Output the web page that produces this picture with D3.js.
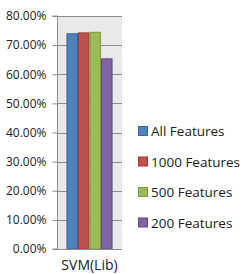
<!DOCTYPE html>
<html>
<head>
<meta charset="utf-8">
<script src="https://cdn.jsdelivr.net/npm/d3@7"></script>
<style>
  body { margin: 0; background: #fff; }
  text { font-family: "Open Sans", "DejaVu Sans", sans-serif; fill: #222; }
</style>
</head>
<body>
<div class="chart"></div>
<script>
var categories = ['SVM(Lib)']
var seriesNames = ['All Features', '1000 Features', '500 Features', '200 Features']
var seriesValues = [0.739, 0.742, 0.744, 0.653]
var colors = ['#4F81BD', '#C0504D', '#9BBB59', '#8064A2']
var strokes = ['#3b659a', '#9c3b38', '#7a9a40', '#5f4a80']
var yTicks = [0, 0.1, 0.2, 0.3, 0.4, 0.5, 0.6, 0.7, 0.8]

var width = 242, height = 274
var margin = {left: 57, top: 16, right: 120, bottom: 25}

var svg = d3.select('.chart').append('svg')
  .attr('width', width).attr('height', height)

var x0 = d3.scaleBand().domain(categories)
  .range([margin.left, width - margin.right]).paddingInner(0).paddingOuter(0.205)
var x1 = d3.scaleBand().domain(seriesNames).range([0, x0.bandwidth()])
var y = d3.scaleLinear().domain([0, 0.8]).range([height - margin.bottom, margin.top])

// plot background
svg.append('rect')
  .attr('x', margin.left).attr('y', margin.top)
  .attr('width', width - margin.right - margin.left)
  .attr('height', y(0) - margin.top)
  .attr('fill', '#e9e9e9')

// gridlines
svg.append('g').selectAll('line').data(yTicks.slice(1)).join('line')
  .attr('x1', margin.left).attr('x2', width - margin.right)
  .attr('y1', d => Math.round(y(d)) + 0.5).attr('y2', d => Math.round(y(d)) + 0.5)
  .attr('stroke', '#8c8c8c')

// bars
svg.append('g').selectAll('g').data(categories).join('g')
  .attr('transform', d => `translate(${x0(d)},0)`)
  .selectAll('rect').data(seriesNames.map((n, i) => ({n, v: seriesValues[i], i}))).join('rect')
  .attr('x', d => x1(d.n) + 0.5)
  .attr('width', x1.bandwidth() - 1)
  .attr('y', d => y(d.v))
  .attr('height', d => y(0) - y(d.v))
  .attr('fill', d => colors[d.i])
  .attr('stroke', d => strokes[d.i])
  .attr('stroke-width', 1)

// y axis
var yAxis = d3.axisLeft(y).tickValues(yTicks).tickFormat(d3.format('.2%'))
  .tickSize(5).tickPadding(6)
var ya = svg.append('g').attr('transform', `translate(${margin.left + 0.5},0)`).call(yAxis)
ya.select('.domain').attr('stroke', '#8c8c8c').attr('d', `M-5,${y(0.8)}H0V${y(0)}H-5`)
ya.selectAll('.tick line').attr('stroke', '#8c8c8c')
ya.selectAll('.tick text').style('font-size', '12px').attr('fill', '#222')
  .style('font-family', '"Open Sans", sans-serif')

// bottom axis line
svg.append('line')
  .attr('x1', margin.left).attr('x2', width - margin.right)
  .attr('y1', Math.round(y(0)) + 0.5).attr('y2', Math.round(y(0)) + 0.5)
  .attr('stroke', '#8c8c8c')

// x label
svg.append('g').selectAll('text').data(categories).join('text')
  .attr('x', d => x0(d) + x0.bandwidth() / 2)
  .attr('y', 270)
  .attr('text-anchor', 'middle')
  .style('font-size', '14px')
  .text(d => d)

// legend
var legend = svg.append('g').selectAll('g').data(seriesNames).join('g')
  .attr('transform', (d, i) => `translate(138,${131 + i * 30.5})`)
legend.append('rect')
  .attr('x', 0.5).attr('y', -4.5).attr('width', 9).attr('height', 9)
  .attr('fill', (d, i) => colors[i]).attr('stroke', (d, i) => strokes[i])
legend.append('text')
  .attr('x', 13).attr('y', 5)
  .style('font-size', '13.5px')
  .text(d => d)
</script>
</body>
</html>
